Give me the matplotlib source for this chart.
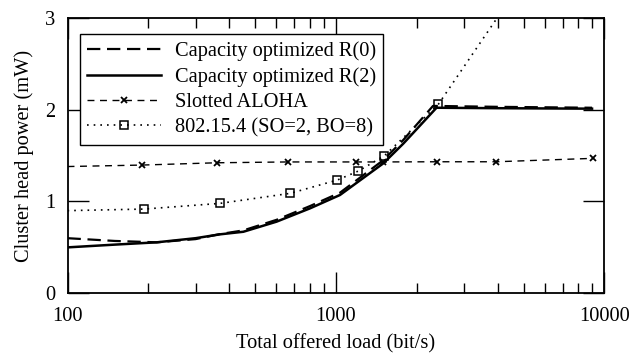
import matplotlib
matplotlib.use("Agg")
import matplotlib.pyplot as plt
from matplotlib.ticker import FixedLocator, NullFormatter, LogLocator, FixedFormatter

plt.rcParams['font.family'] = ['Liberation Serif', 'DejaVu Serif']
plt.rcParams['mathtext.fontset'] = 'stix'

# Capacity optimized R(0)
r0_x = [100, 150, 215, 300, 370, 452, 601, 801, 1035, 1502, 1783, 2300, 4000, 9000]
r0_y = [0.60, 0.57, 0.555, 0.59, 0.645, 0.685, 0.80, 0.95, 1.095, 1.45, 1.67, 2.04, 2.03, 2.02]

# Capacity optimized R(2)
r2_x = [100, 150, 215, 300, 370, 452, 601, 801, 1035, 1502, 1783, 2370, 4000, 9000]
r2_y = [0.50, 0.53, 0.555, 0.60, 0.642, 0.67, 0.78, 0.925, 1.07, 1.415, 1.63, 2.02, 2.015, 2.01]

# Slotted ALOHA
aloha_x = [100, 189, 360, 661, 1185, 1494, 2371, 3950, 9055]
aloha_y = [1.38, 1.396, 1.421, 1.43, 1.43, 1.43, 1.432, 1.432, 1.469]

# 802.15.4 (SO=2, BO=8)
ieee_x = [100, 193, 370, 675, 1012, 1212, 1515, 2407, 5000]
ieee_y = [0.90, 0.917, 0.979, 1.088, 1.233, 1.331, 1.497, 2.057, 3.42]

labels = ["Capacity optimized R(0)", "Capacity optimized R(2)",
          "Slotted ALOHA", "802.15.4 (SO=2, BO=8)"]
xlabel = "Total offered load (bit/s)"
ylabel = "Cluster head power (mW)"
yticks = [0, 1, 2, 3]
xticks = [100, 1000, 10000]
xticklabels = ["100", "1000", "10000"]

fs = 14.7

fig = plt.figure(figsize=(6.34, 3.58), dpi=100)
ax = fig.add_axes([0.1065, 0.1807, 0.8467, 0.7698])

ax.plot(r0_x, r0_y, color='black', lw=1.6, dashes=(6, 3), label=labels[0])
ax.plot(r2_x, r2_y, color='black', lw=1.8, linestyle='-', label=labels[1])
ax.plot(aloha_x, aloha_y, color='black', lw=1.0, dashes=(5, 4), marker='x',
        ms=5, mew=1.3, markevery=list(range(1, len(aloha_x))), label=labels[2])
ax.plot(ieee_x, ieee_y, color='black', lw=1.2, dashes=(1, 3), marker='s',
        ms=6, mew=1.1, mfc='none', markevery=list(range(1, len(ieee_x))),
        label=labels[3])

ax.set_xscale('log')
ax.set_xlim(100, 10000)
ax.set_ylim(0, 3)
ax.xaxis.set_major_locator(FixedLocator(xticks))
ax.xaxis.set_major_formatter(FixedFormatter(xticklabels))
ax.xaxis.set_minor_locator(LogLocator(base=10, subs=range(2, 10)))
ax.xaxis.set_minor_formatter(NullFormatter())
ax.set_yticks(yticks)
ax.set_yticklabels([str(v) for v in yticks])

ax.tick_params(which='both', direction='in', top=True, right=True, width=1.0,
               labelsize=fs, color='black')
ax.tick_params(which='major', length=15)
ax.tick_params(axis='x', which='major', pad=10)
ax.tick_params(axis='y', which='major', pad=9)
ax.tick_params(which='minor', length=7)
for s in ax.spines.values():
    s.set_linewidth(1.3)

ax.set_xlabel(xlabel, fontsize=fs, labelpad=6)
ax.set_ylabel(ylabel, fontsize=fs, labelpad=8)

leg = ax.legend(loc='upper left', bbox_to_anchor=(0.0233, 0.941), borderaxespad=0,
                fontsize=fs, fancybox=False, frameon=True, handlelength=3.6,
                handletextpad=0.7, labelspacing=0.3, borderpad=0.35)
leg.get_frame().set_edgecolor('black')
leg.get_frame().set_linewidth(1.0)
leg.get_frame().set_alpha(1)

fig.savefig('out.png', dpi=100)
